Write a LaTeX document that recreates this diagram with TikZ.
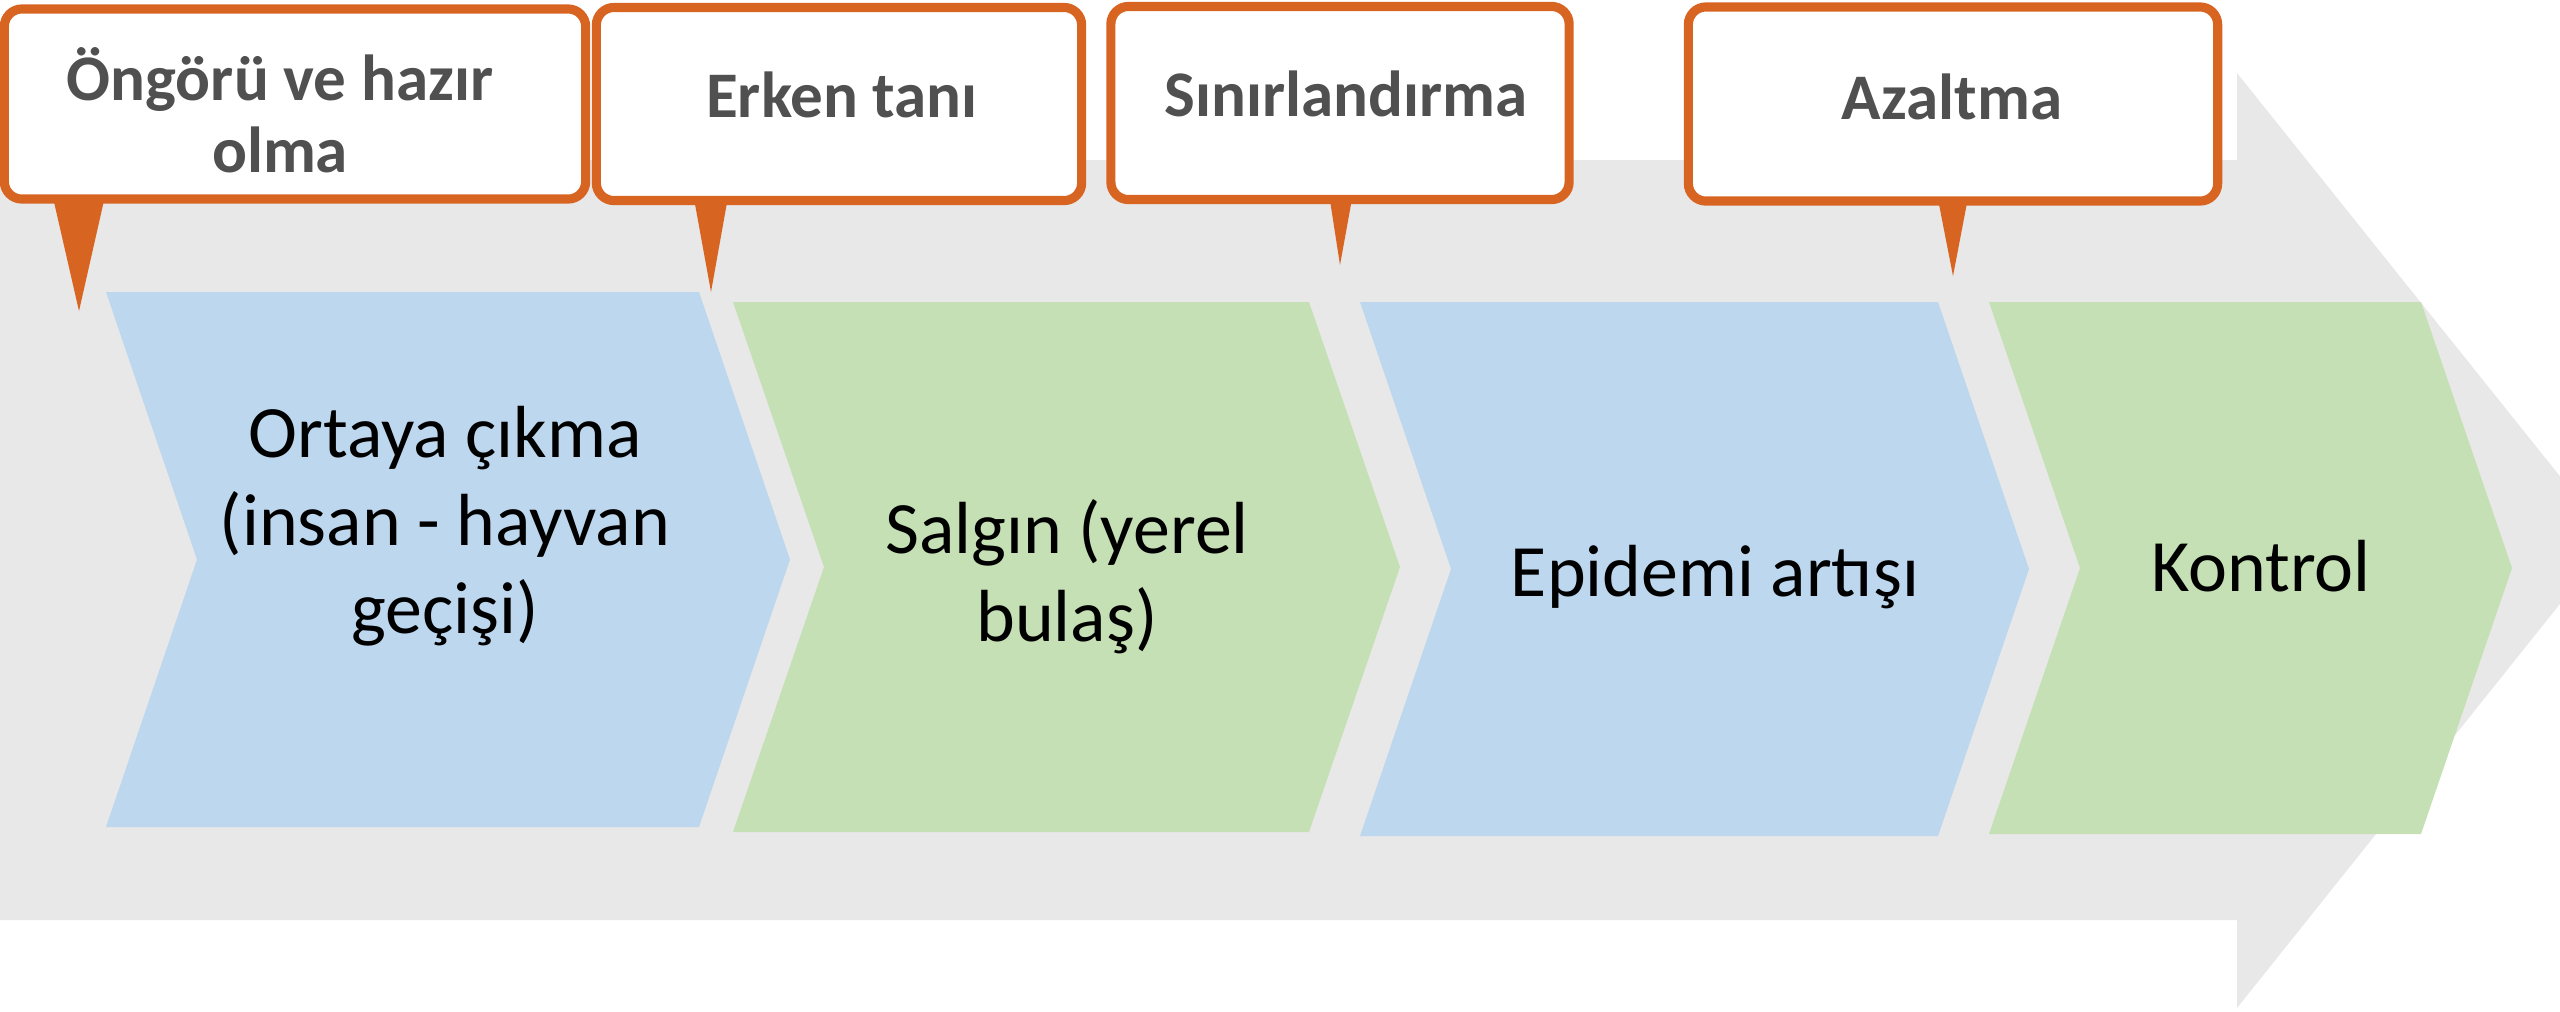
\documentclass[tikz,border=0pt]{standalone}
\usepackage{fontspec}
\setmainfont{Carlito}
\usetikzlibrary{calc}
\definecolor{arrowgray}{HTML}{E8E8E8}
\definecolor{stageblue}{HTML}{BDD7EE}
\definecolor{stagegreen}{HTML}{C5E0B4}
\definecolor{calloutorange}{HTML}{D86422}
\definecolor{calloutgray}{HTML}{505050}
\tikzset{
    stagetext/.style = {align=center, text=black, inner sep=0pt,
        font=\fontsize{21}{25}\selectfont},
    calloutbox/.style = {draw=calloutorange, line width=2.6pt, fill=white,
        rounded corners=5pt, inner sep=0pt, outer sep=0pt},
    callouttext/.style = {align=center, text=calloutgray, inner sep=0pt,
        font=\fontsize{18.5}{20.5}\selectfont\bfseries},
}

\begin{document}
\begin{tikzpicture}[x=0.01cm, y=-0.01cm]
    \useasboundingbox (0,0) rectangle (2560,1011);
    % big arrow in the back
    \fill[arrowgray] (0,160) -- (2237,160) -- (2237,73) -- (2611,540) -- (2237,1008) -- (2237,920) -- (0,920) -- cycle;

    % stages
    \foreach \l/\r/\t/\b/\c in {106/699/292/827/stageblue, 733/1309/302/832/stagegreen,
                               1360/1938/302/836/stageblue, 1989/2421/302/834/stagegreen}
        \fill[\c] (\l,\t) -- (\r,\t) -- ({\r+91},{(\t+\b)/2}) -- (\r,\b) -- (\l,\b) -- ({\l+91},{(\t+\b)/2}) -- cycle;
    \node[stagetext] (emerge) at (445,526) {Ortaya çıkma\\(insan - hayvan\\geçişi)};
    \node[stagetext] (outbreak) at (1067,577) {Salgın (yerel\\bulaş)};
    \node[stagetext] (epidemic) at (1715,577) {Epidemi artışı};
    \node[stagetext] (control) at (2261,566) {Kontrol};

    % callouts
    \node[calloutbox, minimum width=5.81cm, minimum height=1.90cm] (box1) at (295,104) {};
    \node[calloutbox, minimum width=4.85cm, minimum height=1.93cm] (box2) at (839,104) {};
    \node[calloutbox, minimum width=4.58cm, minimum height=1.93cm] (box3) at (1340,103) {};
    \node[calloutbox, minimum width=5.29cm, minimum height=1.94cm] (box4) at (1953,104) {};
    \coordinate (tip1) at (79,311);
    \coordinate (tip2) at (711,292);
    \coordinate (tip3) at (1340,265);
    \coordinate (tip4) at (1953,276);
    \fill[calloutorange] ($(box1.south west)+(49,0)$) -- ++(51,0) -- (tip1) -- cycle;
    \fill[calloutorange] ($(box2.south west)+(98,0)$) -- ++(33,0) -- (tip2) -- cycle;
    \fill[calloutorange] ($(box3.south west)+(219,0)$) -- ++(22,0) -- (tip3) -- cycle;
    \fill[calloutorange] ($(box4.south west)+(250,0)$) -- ++(29,0) -- (tip4) -- cycle;
    \node[callouttext] (ready) at (280,110) {Öngörü ve hazır\\olma};
    \node[callouttext] (early) at (842,95) {Erken tanı};
    \node[callouttext] (limit) at (1346,94) {Sınırlandırma};
    \node[callouttext] (reduce) at (1952,97) {Azaltma};
\end{tikzpicture}
\end{document}
